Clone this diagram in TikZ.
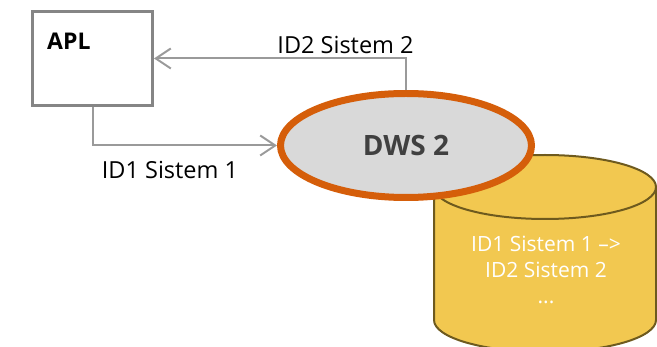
\documentclass[tikz,border=0pt]{standalone}
\usepackage{fontspec}
\setmainfont{Open Sans}
\usetikzlibrary{positioning,shapes.geometric,arrows.meta}
\definecolor{boxgray}{HTML}{858585}
\definecolor{linegray}{HTML}{9A9A9A}
\definecolor{dwsorange}{HTML}{D55E0A}
\definecolor{dwsfill}{HTML}{D9D9D9}
\definecolor{dbyellow}{HTML}{F2C850}
\definecolor{dbline}{HTML}{6E5A1E}
\begin{document}
\begin{tikzpicture}[x=1pt,y=-1pt,
    flow/.style={draw=linegray,line width=2pt,-{Straight Barb[length=15pt,width=20pt,line width=2pt]}},
    lbl/.style={font=\fontsize{23.5}{27}\selectfont,text=black}]
    \useasboundingbox (0,0) rectangle (657,347);
    \clip (0,0) rectangle (657,347);
    % draw the database cylinder
    \fill[dbyellow] (434,187) -- (434,320) arc[start angle=180,end angle=0,x radius=111,y radius=32]
        -- (656,187) arc[start angle=0,end angle=-180,x radius=111,y radius=32] -- cycle;
    \draw[dbline,line width=2pt] (434,187) -- (434,320) arc[start angle=180,end angle=0,x radius=111,y radius=32]
        -- (656,187);
    \draw[dbline,line width=2pt,fill=dbyellow] (545,187) ellipse[x radius=111,y radius=32];
    \node[align=center,text=white,font=\fontsize{21}{26}\selectfont] (dbtxt) at (546,270)
        {ID1 Sistem 1 –>\\ID2 Sistem 2\\...};
    % the application box and the dws node
    \node[draw=boxgray,line width=3pt,minimum width=120pt,minimum height=94pt,inner sep=0pt] (apl) at (92.5,58.5) {};
    \node[font=\fontsize{23}{26}\selectfont\bfseries,anchor=north west,inner sep=0pt] (apltxt)
        at ([shift={(16pt,-23pt)}]apl.north west) {APL};
    \node[ellipse,draw=dwsorange,fill=dwsfill,line width=7pt,minimum width=251pt,minimum height=104pt,
        inner sep=0pt,text=black!75,font=\fontsize{28}{30}\selectfont\bfseries] (dws) at (406,145.5) {DWS 2};
    % connectors
    \draw[flow] (apl.south) |- (dws.west) node[lbl,pos=0.71,below=11pt] {ID1 Sistem 1};
    \draw[flow] (dws.north) |- (apl.east) node[lbl,pos=0.62,above=0pt] {ID2 Sistem 2};
\end{tikzpicture}
\end{document}
